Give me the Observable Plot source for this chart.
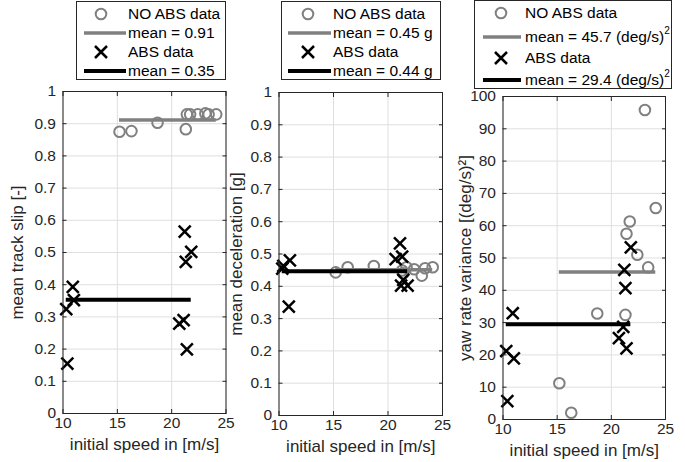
<!DOCTYPE html>
<html><head><meta charset="utf-8">
<script src="https://cdn.jsdelivr.net/npm/d3@7"></script>
<script src="https://cdn.jsdelivr.net/npm/@observablehq/plot@0.6"></script>
<style>
body{margin:0;background:#fff;}
#root{position:relative;width:685px;height:462px;overflow:hidden;background:#fff;font-family:"Liberation Sans",Arial,Helvetica,sans-serif;color:#000;}
#root svg{position:absolute;left:0;top:0;font-family:"Liberation Sans",Arial,Helvetica,sans-serif !important;}
#root svg text{font-family:"Liberation Sans",Arial,Helvetica,sans-serif !important;}
.legend{position:absolute;background:#fff;border:1px solid #262626;box-sizing:border-box;}
.legend .row{position:absolute;left:0;right:0;height:0;}
.legend .sym{position:absolute;top:-10px;}
.legend .txt{position:absolute;font-size:15.5px;line-height:18px;top:-9px;white-space:nowrap;}
.legend sup{font-size:10px;vertical-align:0;position:relative;top:-8px;}
</style></head>
<body><div id="root"></div>
<script>
// ---- data ----
const speedTicks = [10, 15, 20, 25];
const slipTicks = [0, 0.1, 0.2, 0.3, 0.4, 0.5, 0.6, 0.7, 0.8, 0.9, 1];
const decelTicks = [0, 0.1, 0.2, 0.3, 0.4, 0.5, 0.6, 0.7, 0.8, 0.9, 1];
const yawTicks = [0, 10, 20, 30, 40, 50, 60, 70, 80, 90, 100];

const noAbsSpeed = [15.2, 16.3, 18.7, 21.3, 21.4, 21.7, 22.4, 23.1, 23.4, 24.1];
const absSpeed   = [10.3, 10.4, 10.9, 11.0, 20.7, 21.1, 21.2, 21.3, 21.4, 21.8];

const slipNoAbs  = [0.875, 0.877, 0.903, 0.883, 0.929, 0.929, 0.929, 0.932, 0.929, 0.929];
const slipAbs    = [0.324, 0.155, 0.393, 0.352, 0.279, 0.290, 0.565, 0.471, 0.199, 0.502];
const decelNoAbs = [0.443, 0.459, 0.463, 0.449, 0.440, 0.459, 0.453, 0.433, 0.456, 0.459];
const decelAbs   = [0.455, 0.463, 0.337, 0.480, 0.484, 0.533, 0.402, 0.492, 0.420, 0.402];
const yawNoAbs   = [11.2, 2.1, 32.8, 32.4, 57.5, 61.3, 51.0, 95.8, 47.1, 65.5];
const yawAbs     = [21.2, 5.7, 32.9, 18.9, 25.2, 28.7, 46.3, 40.7, 22.0, 53.3];

const yLabels = ["mean track slip [-]", "mean deceleration [g]", "yaw rate variance [(deg/s)\u00B2]"];
const xLabel = "initial speed in [m/s]";
const legendNoAbs = "NO ABS data";
const legendAbs = "ABS data";
const meanNoAbsText = ["0.91", "0.45 g", "45.7 (deg/s)"];
const meanAbsText   = ["0.35", "0.44 g", "29.4 (deg/s)"];
const meanExponent  = ["", "", "2"];

// ---- layout ----
const W = 685, H = 462;
const FONT = "'Liberation Sans', Arial, Helvetica, sans-serif";
const GRAY = "#808080";
const AX = "#262626";
const fmt1 = d => String(d);

const panels = [
  {noAbs: slipNoAbs, abs: slipAbs, yTicks: slipTicks, yDomain: [0, 1], box: [62.5, 225.5, 91, 413], labelCenter: 18,
   legend: {left: 76, top: 1, width: 150, height: 79, rows: [12, 31, 50, 69], circ: 24, line: [7, 49], text: 51}},
  {noAbs: decelNoAbs, abs: decelAbs, yTicks: decelTicks, yDomain: [0, 1], box: [278.5, 442, 92, 415], labelCenter: 237,
   legend: {left: 281, top: 1, width: 160, height: 79, rows: [12, 31, 50, 69], circ: 26, line: [6, 49], text: 51}},
  {noAbs: yawNoAbs, abs: yawAbs, yTicks: yawTicks, yDomain: [0, 100], box: [502.5, 665, 96, 419], labelCenter: 466,
   legend: {left: 474, top: 0, width: 198, height: 89, rows: [12, 36, 57, 79], circ: 26, line: [8, 46], text: 50}},
];

const root = document.getElementById("root");

panels.forEach((p, k) => {
  const [L, R, T, B] = p.box;
  const noAbsData = noAbsSpeed.map((s, i) => ({speed: s, value: p.noAbs[i]}));
  const absData = absSpeed.map((s, i) => ({speed: s, value: p.abs[i]}));
  const svg = Plot.plot({
    width: W, height: H,
    marginLeft: L, marginRight: W - R, marginTop: T, marginBottom: H - B,
    style: `background: transparent; font-family: ${FONT}; color: ${AX}; overflow: visible;`,
    x: {domain: [10, 25]},
    y: {domain: p.yDomain},
    marks: [
      Plot.gridX(speedTicks, {stroke: "#dfdfdf", strokeOpacity: 1}),
      Plot.gridY(p.yTicks, {stroke: "#dfdfdf", strokeOpacity: 1}),
      Plot.dot(noAbsData, {x: "speed", y: "value", r: 5.3, stroke: GRAY, strokeWidth: 2, fill: "none"}),
      Plot.ruleY([d3.mean(p.noAbs)], {y: d => d, x1: d3.min(noAbsSpeed), x2: d3.max(noAbsSpeed), stroke: GRAY, strokeWidth: 3.5}),
      Plot.dot(absData, {x: "speed", y: "value", symbol: "times", r: 5.5, stroke: "#000", strokeWidth: 2.5}),
      Plot.ruleY([d3.mean(p.abs)], {y: d => d, x1: d3.min(absSpeed), x2: d3.max(absSpeed), stroke: "#000", strokeWidth: 4}),
      Plot.frame({stroke: AX}),
      Plot.axisX(speedTicks, {anchor: "bottom", tickSize: -4, tickPadding: 7, label: null, fontSize: 15.5, fontFamily: FONT, stroke: AX, fill: AX}),
      Plot.axisX(speedTicks, {anchor: "top", tickSize: -4, tickFormat: () => "", label: null, stroke: AX}),
      Plot.axisY(p.yTicks, {anchor: "left", tickSize: -4, tickPadding: 11, tickFormat: fmt1, label: null, fontSize: 15.5, fontFamily: FONT, stroke: AX, fill: AX}),
      Plot.axisY(p.yTicks, {anchor: "right", tickSize: -4, tickFormat: () => "", label: null, stroke: AX}),
      Plot.axisX([], {anchor: "bottom", tickSize: 0, label: xLabel, labelAnchor: "center", labelArrow: "none", labelOffset: 36, fontSize: 17, fontFamily: FONT, fill: AX}),
      Plot.axisY([], {anchor: "left", tickSize: 0, label: yLabels[k], labelAnchor: "center", labelArrow: "none", labelOffset: L - p.labelCenter + 8, fontSize: 17, fontFamily: FONT, fill: AX}),
    ]
  });
  root.appendChild(svg);
});

// ---- legends ----
function symCircle() {
  return `<svg width="16" height="20" style="position:static;overflow:visible"><circle cx="8" cy="10" r="5.3" fill="none" stroke="${GRAY}" stroke-width="2"/></svg>`;
}
function symTimes() {
  return `<svg width="16" height="20" style="position:static;overflow:visible"><path d="M2,4L14,16M2,16L14,4" stroke="#000" stroke-width="2.5" fill="none"/></svg>`;
}
function symLine(x0, x1, color, w) {
  return `<svg width="${x1 - x0}" height="20" style="position:static;overflow:visible"><line x1="0" x2="${x1 - x0}" y1="10" y2="10" stroke="${color}" stroke-width="${w}"/></svg>`;
}
panels.forEach((p, k) => {
  const g = p.legend;
  const div = document.createElement("div");
  div.className = "legend";
  Object.assign(div.style, {left: g.left + "px", top: g.top + "px", width: g.width + "px", height: g.height + "px"});
  const sup = meanExponent[k] ? `<sup>${meanExponent[k]}</sup>` : "";
  const rows = [
    [symCircle(), g.circ - 8, legendNoAbs],
    [symLine(g.line[0], g.line[1], GRAY, 3.5), g.line[0], "mean = " + meanNoAbsText[k] + sup],
    [symTimes(), g.circ - 8, legendAbs],
    [symLine(g.line[0], g.line[1], "#000", 4), g.line[0], "mean = " + meanAbsText[k] + sup],
  ];
  rows.forEach((r, i) => {
    const row = document.createElement("div");
    row.className = "row";
    row.style.top = g.rows[i] + "px";
    row.innerHTML = `<div class="sym" style="left:${r[1]}px">${r[0]}</div><div class="txt" style="left:${g.text}px">${r[2]}</div>`;
    div.appendChild(row);
  });
  root.appendChild(div);
});
</script>
</body></html>
